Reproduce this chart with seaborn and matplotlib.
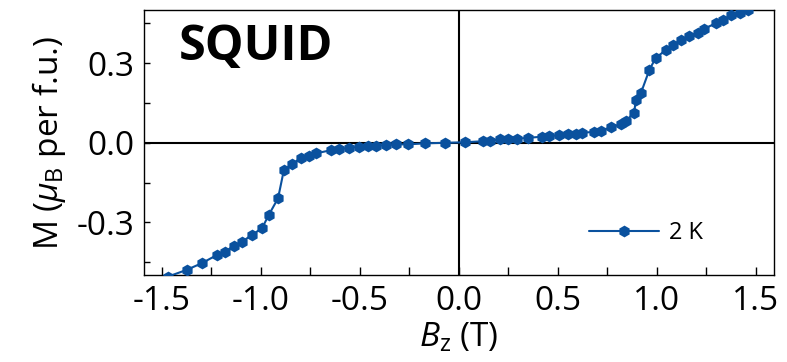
import matplotlib
matplotlib.use("Agg")
import matplotlib.pyplot as plt
import seaborn as sns
import pandas as pd
from matplotlib.ticker import MultipleLocator

# ---- data ----
field = [-1.56, -1.468, -1.375, -1.299, -1.222, -1.180, -1.138, -1.095, -1.045, -0.994,
         -0.960, -0.913, -0.884, -0.842, -0.799, -0.757, -0.723, -0.647, -0.604, -0.554,
         -0.503, -0.461, -0.418, -0.367, -0.316, -0.257, -0.173, -0.071, 0.030, 0.123,
         0.157, 0.208, 0.250, 0.292, 0.351, 0.422, 0.456, 0.507, 0.550, 0.592,
         0.623, 0.682, 0.716, 0.767, 0.818, 0.843, 0.885, 0.894, 0.919, 0.962,
         0.995, 1.046, 1.080, 1.122, 1.164, 1.206, 1.239, 1.300, 1.333, 1.376,
         1.418, 1.460, 1.550]
moment = [-0.530, -0.504, -0.479, -0.454, -0.423, -0.410, -0.389, -0.373, -0.347, -0.322,
          -0.272, -0.209, -0.104, -0.079, -0.059, -0.049, -0.040, -0.028, -0.024, -0.019,
          -0.015, -0.012, -0.011, -0.009, -0.006, -0.006, -0.002, 0.000, 0.002, 0.006,
          0.008, 0.013, 0.014, 0.015, 0.019, 0.023, 0.025, 0.029, 0.032, 0.035,
          0.038, 0.041, 0.046, 0.058, 0.070, 0.082, 0.112, 0.160, 0.186, 0.274,
          0.321, 0.349, 0.370, 0.386, 0.401, 0.415, 0.430, 0.451, 0.464, 0.480,
          0.491, 0.502, 0.530]
series_label = "2 K"
x_ticks = [-1.5, -1.0, -0.5, 0.0, 0.5, 1.0, 1.5]
y_ticks = [-0.3, 0.0, 0.3]
panel_title = "SQUID"

df = pd.DataFrame({"B": field, "M": moment})

sns.set_style("white")
plt.rcParams["font.family"] = ["Open Sans", "DejaVu Sans"]
plt.rcParams["mathtext.fontset"] = "custom"
plt.rcParams["mathtext.rm"] = "Open Sans"
plt.rcParams["mathtext.it"] = "Open Sans:italic"
plt.rcParams["mathtext.fallback"] = "stixsans"
for k in ["text.color", "axes.labelcolor", "xtick.color", "ytick.color"]:
    plt.rcParams[k] = "black"

color = "#0a519e"
fs = 24

fig = plt.figure(figsize=(7.87, 3.62), dpi=100)
ax = fig.add_axes([0.183, 0.239, 0.800, 0.733])

ax.axhline(0, color="black", lw=1.5, zorder=1)
ax.axvline(0, color="black", lw=1.5, zorder=1)

sns.lineplot(data=df, x="B", y="M", sort=False, ax=ax, color=color, lw=1.5,
             marker="h", markersize=8.5, markeredgewidth=0, label=series_label,
             zorder=3)

ax.set_xlim(-1.59, 1.59)
ax.set_ylim(-0.5, 0.5)
ax.set_xticks(x_ticks)
ax.set_xticklabels([f"{v:.1f}" for v in x_ticks])
ax.set_yticks(y_ticks)
ax.set_yticklabels([f"{v:.1f}" for v in y_ticks])
ax.xaxis.set_minor_locator(MultipleLocator(0.25))
ax.yaxis.set_minor_locator(MultipleLocator(0.15))
ax.tick_params(axis="both", which="both", direction="in", labelsize=fs,
               bottom=True, left=True, top=False, right=False, color="black", width=1)
ax.tick_params(axis="x", which="both", length=6, pad=7)
ax.tick_params(axis="y", which="both", length=4, pad=7)

for s in ax.spines.values():
    s.set_color("black")
    s.set_linewidth(1.0)

ax.set_xlabel(r"$B_\mathregular{z}$ (T)", fontsize=fs, labelpad=2)
ax.set_ylabel(r"M ($\mu_\mathregular{B}$ per f.u.)", fontsize=fs, labelpad=6)

ax.text(0.055, 0.86, panel_title, transform=ax.transAxes, fontsize=35,
        fontweight="bold", ha="left", va="center", color="black")

leg = ax.legend(loc="center left", bbox_to_anchor=(0.706, 0.16), frameon=False,
                fontsize=17, handlelength=3.0, handletextpad=0.4,
                borderpad=0, borderaxespad=0)

fig.savefig("out.png", dpi=100)
